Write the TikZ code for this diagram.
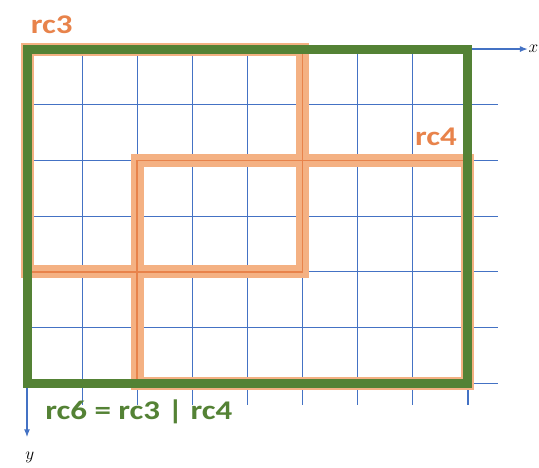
\documentclass[tikz,border=0pt]{standalone}
\usepackage{fontspec}
\newfontfamily\calfont{Carlito}
\usetikzlibrary{arrows.meta}
\definecolor{gridblue} {HTML}{4472C4}
\definecolor{rcgreen}  {HTML}{548235}
\definecolor{rcorange} {HTML}{E8834B}
\definecolor{rclight}  {HTML}{F4B183}
\tikzset{
  gridline/.style={gridblue,line width=1.2pt},
  axisline/.style={gridblue,line width=1.5pt,-{Latex[length=8pt,width=6pt]}},
  rcband/.style={rclight,line width=13pt},
  rcline/.style={rcorange,line width=1.5pt},
  rcframe/.style={rcgreen,line width=9pt},
  rclabel/.style={font=\calfont\bfseries\fontsize{27}{27}\selectfont,inner sep=0pt,xscale=1.22,transform shape}
}
\begin{document}
\begin{tikzpicture}[x=55.1pt,y=55.7pt]
  \useasboundingbox (-0.49,0.88) rectangle (9.29,-7.52);
  % grid
  \foreach \i in {1,...,8} {
    \draw[gridline] (\i,0) -- (\i,-6.39);
  }
  \foreach \j in {1,...,6} {
    \draw[gridline] (0,-\j) -- (8.55,-\j);
  }
  \draw[gridline,line width=1.8pt] (4,0) -- (4,-6.39);
  \draw[gridline,line width=1.8pt] (0,-5) -- (8.55,-5);
  % axes
  \coordinate (O) at (0,0);
  \coordinate (xtip) at (9.09,0);
  \coordinate (ytip) at (0,-6.97);
  \draw[axisline] (O) -- (xtip);
  \draw[axisline] (O) -- (ytip);
  \node[font=\fontsize{18}{18}\selectfont,anchor=west,inner sep=0pt] (xlab) at (9.1,0) {$x$};
  \node[font=\fontsize{18}{18}\selectfont] (ylab) at (0.05,-7.33) {$y$};
  % rc3 and rc4
  \draw[rcband] (0,0) rectangle (5,-4);
  \draw[rcband] (2,-2) rectangle (8,-6);
  \draw[rcline] (0,0) rectangle (5,-4);
  \draw[rcline] (2,-2) rectangle (8,-6);
  % rc6
  \draw[rcframe] (0,0) rectangle (8,-6);
  % labels
  \node[rclabel,text=rcorange] (rc3) at (0.45,0.43) {rc3};
  \node[rclabel,text=rcorange] (rc4) at (7.42,-1.58) {rc4};
  \node[rclabel,text=rcgreen,anchor=west] (rc6) at (0.33,-6.52) {rc6 = rc3 | rc4};
\end{tikzpicture}
\end{document}
